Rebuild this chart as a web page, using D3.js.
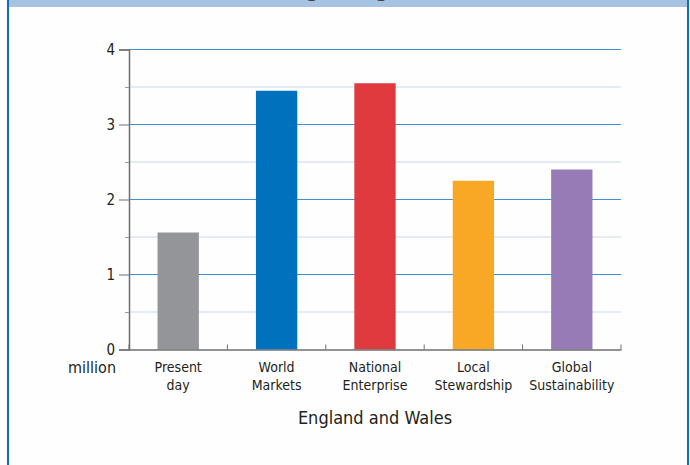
<!DOCTYPE html>
<html>
<head>
<meta charset="utf-8">
<script src="https://cdn.jsdelivr.net/npm/d3@7"></script>
<style>
  html, body { margin: 0; padding: 0; background: #ffffff; }
  svg { display: block; }
  text { font-family: "Liberation Sans Narrow", "DejaVu Sans Condensed", "Roboto", sans-serif; fill: #231f20; }
</style>
</head>
<body>
<svg id="chart" width="690" height="465"></svg>
<script>
// Housing scenarios, England and Wales (million)
const categories = [
  ["Present", "day"],
  ["World", "Markets"],
  ["National", "Enterprise"],
  ["Local", "Stewardship"],
  ["Global", "Sustainability"]
];
const values = [1.56, 3.45, 3.55, 2.25, 2.40];
const barColors = ["#939598", "#0071bc", "#e0393e", "#f9a826", "#967bb6"];
const majorTicks = [0, 1, 2, 3, 4];
const minorTicks = [0.5, 1.5, 2.5, 3.5];
const unitLabel = "million";
const xTitle = "England and Wales";
const chartTitle = "Housing in England and Wales";

const svg = d3.select("#chart");

// panel frame and header strip (title sits above the top edge of the panel)
svg.append("rect").attr("x", 0).attr("y", 0).attr("width", 690).attr("height", 465).attr("fill", "#fefefe");
svg.append("rect").attr("x", 9).attr("y", 0).attr("width", 678).attr("height", 7).attr("fill", "#a6c3e2");
svg.append("text").attr("x", 236).attr("y", -3.5).attr("text-anchor", "start")
  .style("font-size", "20px").style("font-weight", "bold").style("fill", "#404040").text(chartTitle);
svg.append("line").attr("x1", 8).attr("x2", 8).attr("y1", 0).attr("y2", 465)
  .attr("stroke", "#0b6fb8").attr("stroke-width", 2);
svg.append("line").attr("x1", 688).attr("x2", 688).attr("y1", 0).attr("y2", 465)
  .attr("stroke", "#0b6fb8").attr("stroke-width", 2);

const plotLeft = 129, plotRight = 621, plotTop = 49.5, plotBottom = 349.5;

const x = d3.scaleBand().domain(d3.range(categories.length)).range([plotLeft, plotRight]).paddingInner(0.58).paddingOuter(0.29);
const xb = d3.scaleBand().domain(d3.range(categories.length)).range([plotLeft, plotRight]);
const y = d3.scaleLinear().domain([0, 4]).range([plotBottom, plotTop]);

// gridlines
svg.append("g").selectAll("line").data(minorTicks).join("line")
  .attr("x1", plotLeft).attr("x2", plotRight)
  .attr("y1", d => y(d)).attr("y2", d => y(d))
  .attr("stroke", "#dbe5f3").attr("stroke-width", 1.5);
svg.append("g").selectAll("line").data(majorTicks.filter(d => d > 0)).join("line")
  .attr("x1", plotLeft).attr("x2", plotRight)
  .attr("y1", d => y(d)).attr("y2", d => y(d))
  .attr("stroke", "#3e8fd6").attr("stroke-width", 1);

// bars
svg.append("g").selectAll("rect").data(values).join("rect")
  .attr("x", (d, i) => x(i))
  .attr("width", x.bandwidth())
  .attr("y", d => y(d))
  .attr("height", d => y(0) - y(d))
  .attr("fill", (d, i) => barColors[i]);

// y axis
const yAxis = svg.append("g").attr("transform", `translate(${plotLeft},0)`)
  .call(d3.axisLeft(y).tickValues(majorTicks).tickFormat(d3.format("d")).tickSize(10).tickPadding(4));
yAxis.select(".domain").attr("stroke", "#6d6e71").attr("stroke-width", 1.5);
yAxis.selectAll(".tick line").attr("stroke", "#6d6e71");
yAxis.selectAll(".tick text").style("font-size", "15px").style("fill", "#231f20")
  .style("font-family", "\"Liberation Sans Narrow\", \"DejaVu Sans Condensed\", sans-serif");
svg.append("g").attr("transform", `translate(${plotLeft},0)`)
  .call(d3.axisLeft(y).tickValues(minorTicks).tickSize(4).tickFormat(""))
  .call(g => g.select(".domain").remove())
  .selectAll(".tick line").attr("stroke", "#9a9b9e");

// x axis
const xAxis = svg.append("g").attr("transform", `translate(0,${plotBottom})`)
  .call(d3.axisBottom(xb).tickSize(0).tickFormat(""));
xAxis.select(".domain").attr("stroke", "#6d6e71").attr("stroke-width", 1.5);
svg.append("g").selectAll("line").data(d3.range(categories.length + 1)).join("line")
  .attr("x1", d => plotLeft + d * xb.step()).attr("x2", d => plotLeft + d * xb.step())
  .attr("y1", plotBottom).attr("y2", plotBottom - 5)
  .attr("stroke", "#6d6e71").attr("stroke-width", 1);

// category labels
const labels = svg.append("g").selectAll("text").data(categories).join("text")
  .attr("text-anchor", "middle")
  .attr("transform", (d, i) => `translate(${xb(i) + xb.bandwidth() / 2},${plotBottom + 22})`)
  .style("font-size", "14px");
labels.selectAll("tspan").data(d => d).join("tspan")
  .attr("x", 0).attr("dy", (d, j) => j === 0 ? 0 : 18).text(d => d);

svg.append("text").attr("x", 116).attr("y", 373).attr("text-anchor", "end")
  .style("font-size", "16px").text(unitLabel);
svg.append("text").attr("x", (plotLeft + plotRight) / 2).attr("y", 424).attr("text-anchor", "middle")
  .style("font-size", "18px").text(xTitle);
</script>
</body>
</html>
